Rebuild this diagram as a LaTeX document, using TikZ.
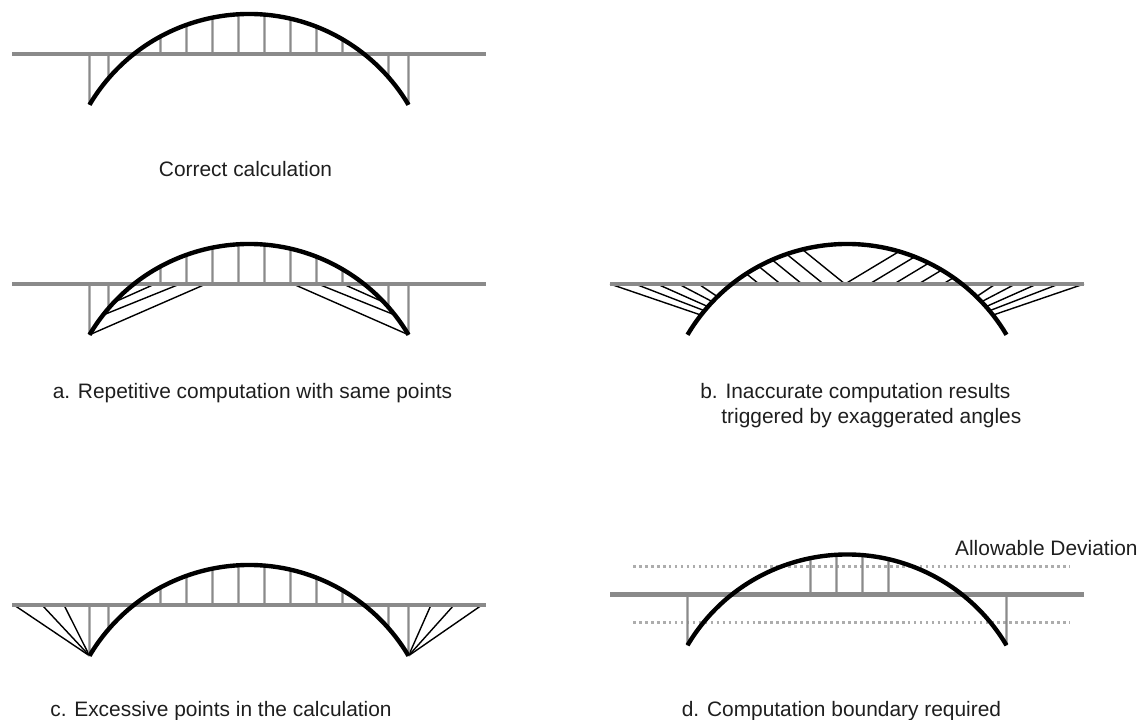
\documentclass[tikz,border=0pt]{standalone}
\usepackage{fontspec}
\setmainfont{Liberation Sans}
\usetikzlibrary{calc}

\definecolor{deckgray}{HTML}{8A8A8A}
\definecolor{dotgray}{HTML}{ADADAD}
\definecolor{txt}{HTML}{1E1E1E}

\begin{document}
\begin{tikzpicture}[x=0.2cm, y=0.2cm,
		deck/.style  = {draw=deckgray, line width=2.3pt},
		hang/.style  = {draw=deckgray, line width=1.3pt},
		arch/.style  = {draw=black, line width=2.5pt},
		diag/.style  = {draw=black, line width=0.8pt},
		bound/.style = {draw=dotgray, line width=1.3pt, dash pattern=on 1.5pt off 1.9pt},
		lbl/.style   = {text=txt, font=\fontsize{11.9}{14.2}\selectfont, inner sep=0pt}
		]
		\useasboundingbox (0,0) rectangle (114.1,72);
		
		%Panels: deck centre and centre of the arch circle
		\coordinate (p0) at (24.9, 66.6);
		\coordinate (pa) at (24.9, 43.6);
		\coordinate (pb) at (84.7, 43.6);
		\coordinate (pc) at (24.9, 11.5);
		\coordinate (pd) at (84.7, 12.55);
		\foreach \p in {p0, pa, pb, pc, pd}
			\coordinate (\p-o) at ($(\p)+(0,-14.55)$);
		
		%Panel a: diagonals to the deck
		\foreach \a/\d in {-15.95/-4.3, -14.6/-6.9, -13.5/-9.4, 15.95/4.4, 14.6/6.9, 13.5/9.4}
			\draw[diag]	($(pa-o)+({acos(\a/18.55)}:18.55)$)	--	($(pa)+(\d,0)$);
		
		%Panel b: slanted lines above and below the deck
		\begin{scope}
			\clip (pb-o) circle (18.55);
			\clip ($(pb)+(-20,0)$) rectangle ($(pb)+(20,6)$);
			\foreach \d in {-0.2, -2.35, -4.5, -6.65, -8.8}
				\draw[diag]	($(pb)+(\d,0)$)	--	++(141:8);
			\foreach \d in {-0.2, 2.25, 4.7, 7.15, 9.6}
				\draw[diag]	($(pb)+(\d,0)$)	--	++(31:8);
		\end{scope}
		\foreach \a/\d in {-14.6/-23.7, -14.25/-21.2, -13.9/-19.0, -13.45/-16.85, -12.95/-14.85,
				14.6/23.7, 14.25/21.2, 13.9/19.0, 13.45/16.85, 12.95/14.85}
			\draw[diag]	($(pb-o)+({acos(\a/18.55)}:18.55)$)	--	($(pb)+(\d,0)$);
		
		%Panel c: fans from the arch ends
		\foreach \d in {-23.5, -20.7, -18.5}
			\draw[diag]	($(pc-o)+(149.3:18.55)$)	--	($(pc)+(\d,0)$);
		\foreach \d in {18.2, 20.5, 23.3}
			\draw[diag]	($(pc-o)+(30.7:18.55)$)	--	($(pc)+(\d,0)$);
		
		%Panel d: allowable deviation
		\draw[bound]	($(pd)+(-21.4,2.8)$)	--	($(pd)+(22.25,2.8)$);
		\draw[bound]	($(pd)+(-21.4,-2.8)$)	--	($(pd)+(22.25,-2.8)$);
		
		%Hangers
		\foreach \p in {p0, pa, pc}
			\foreach \d in {-15.95, -14.05, -8.85, -6.25, -3.65, -1.05, 1.55, 4.15, 6.75, 9.35, 13.95, 15.95}
				\draw[hang]	($(\p)+(\d,0)$)	--	($(\p-o)+({acos(\d/18.55)}:18.55)$);
		\foreach \d in {-15.95, -3.65, -1.05, 1.55, 4.15, 15.95}
			\draw[hang]	($(pd)+(\d,0)$)	--	($(pd-o)+({acos(\d/18.55)}:18.55)$);
		
		%Decks and arches
		\foreach \p in {p0, pa, pb, pc, pd}{
			\draw[deck]	($(\p)+(-23.7,0)$)	--	($(\p)+(23.7,0)$);
			\draw[arch]	($(\p-o)+(149.3:18.55)$)	arc[start angle=149.3, end angle=30.7, radius=18.55];
		}
		
		%Labels
		\node[lbl, anchor=base]	(t0)	at	(24.55, 54.35)	{Correct calculation};
		\node[lbl, anchor=base]	(ta)	at	(25.25, 32.1)	{a. Repetitive computation with same points};
		\node[lbl, anchor=base west]	(tb1)	at	(70.0, 32.1)	{b. Inaccurate computation results};
		\node[lbl, anchor=base west]	(tb2)	at	(72.1, 29.6)	{triggered by exaggerated angles};
		\node[lbl, anchor=base]	(tc)	at	(22.1, 0.3)	{c. Excessive points in the calculation};
		\node[lbl, anchor=base]	(td)	at	(84.15, 0.3)	{d. Computation boundary required};
		\node[lbl, anchor=base east]	(tdev)	at	(113.8, 16.4)	{Allowable Deviation};
	\end{tikzpicture}
\end{document}
